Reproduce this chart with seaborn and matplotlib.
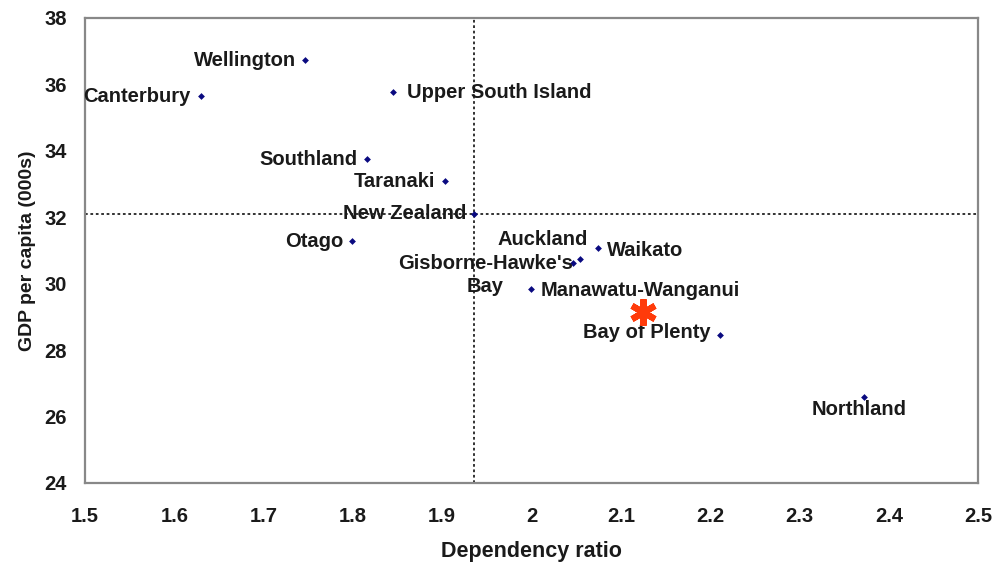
import matplotlib
matplotlib.use("Agg")
import matplotlib.pyplot as plt
import seaborn as sns
import pandas as pd

# regional values
regions = ["Wellington", "Canterbury", "Upper South Island", "Southland", "Taranaki",
           "New Zealand", "Otago", "Waikato", "Auckland", "Gisborne-Hawke's\nBay",
           "Manawatu-Wanganui", "Bay of Plenty", "Northland"]
dependency = [1.746, 1.630, 1.845, 1.816, 1.903, 1.936, 1.799, 2.074, 2.054, 2.046,
              1.999, 2.211, 2.372]
gdp = [36.73, 35.65, 35.77, 33.75, 33.09, 32.10, 31.28, 31.07, 30.74, 30.62,
       29.84, 28.45, 26.58]

# highlighted point (red asterisk)
star_x = [2.125]
star_y = [29.14]

# national averages used for the cross-hair lines
nz_dependency = 1.936
nz_gdp = 32.10

x_ticks = [1.5, 1.6, 1.7, 1.8, 1.9, 2.0, 2.1, 2.2, 2.3, 2.4, 2.5]
x_labels = ["1.5", "1.6", "1.7", "1.8", "1.9", "2", "2.1", "2.2", "2.3", "2.4", "2.5"]
y_ticks = [24, 26, 28, 30, 32, 34, 36, 38]

# label placement (offset in points, horizontal alignment)
label_pos = {
    "Wellington": ((-6, 0), "right"),
    "Canterbury": ((-8, 0), "right"),
    "Upper South Island": ((10, 0), "left"),
    "Southland": ((-7, 0), "right"),
    "Taranaki": ((-7, 0), "right"),
    "New Zealand": ((-6, 0), "right"),
    "Otago": ((-6, 0), "right"),
    "Waikato": ((7, -2), "left"),
    "Auckland": ((-27, 14), "center"),
    "Gisborne-Hawke's\nBay": ((-63, 0), "center"),
    "Manawatu-Wanganui": ((7, -1), "left"),
    "Bay of Plenty": ((-7, 2), "right"),
    "Northland": ((-3, -9), "center"),
}
line_step = 17  # points between lines of a wrapped label

sns.set_style("white")
plt.rcParams["font.family"] = ["Liberation Sans", "DejaVu Sans"]
plt.rcParams["font.weight"] = "bold"

df = pd.DataFrame({"region": regions, "dependency": dependency, "gdp": gdp})

fig = plt.figure(figsize=(9.97, 5.62), dpi=100)
ax = fig.add_axes([0.0853, 0.1406, 0.8957, 0.8274])

ax.axvline(nz_dependency, color="#222222", linestyle=(0, (1.5, 1.5)), linewidth=1.3, zorder=1)
ax.axhline(nz_gdp, color="#222222", linestyle=(0, (1.5, 1.5)), linewidth=1.3, zorder=1)

sns.scatterplot(data=df, x="dependency", y="gdp", marker="D", s=12,
                color="#0a0a80", edgecolor="#0a0a80", linewidth=0, ax=ax, zorder=3)

for name, x, y in zip(regions, dependency, gdp):
    (dx, dy), ha = label_pos[name]
    for i, line in enumerate(name.split("\n")):
        ax.annotate(line, (x, y), xytext=(dx, dy - i * line_step), textcoords="offset points",
                    ha=ha, va="center", fontsize=14.5, fontweight="bold",
                    color="#1a1a1a", zorder=4)

ax.plot(star_x, star_y, linestyle="none", marker=(6, 2, 0), markersize=19,
        markeredgewidth=4.5, color="#ff3b0a", zorder=5)

ax.set_xlim(1.5, 2.5)
ax.set_ylim(24, 38)
ax.set_xticks(x_ticks)
ax.set_xticklabels(x_labels)
ax.set_yticks(y_ticks)
ax.tick_params(axis="both", direction="out", length=6, width=1.2, color="#888888",
               labelsize=14.5, labelcolor="#1a1a1a")
ax.tick_params(axis="x", pad=11)
ax.tick_params(axis="y", pad=7)
for lab in ax.get_xticklabels() + ax.get_yticklabels():
    lab.set_fontweight("bold")

for side in ["left", "bottom", "top", "right"]:
    ax.spines[side].set_visible(True)
    ax.spines[side].set_color("#888888")
    ax.spines[side].set_linewidth(1.6)

ax.set_xlabel("Dependency ratio", fontsize=15.5, fontweight="bold", color="#1a1a1a", labelpad=11)
ax.set_ylabel("GDP per capita (000s)", fontsize=14, fontweight="bold", color="#1a1a1a", labelpad=6)

fig.savefig("out.png", dpi=100)
